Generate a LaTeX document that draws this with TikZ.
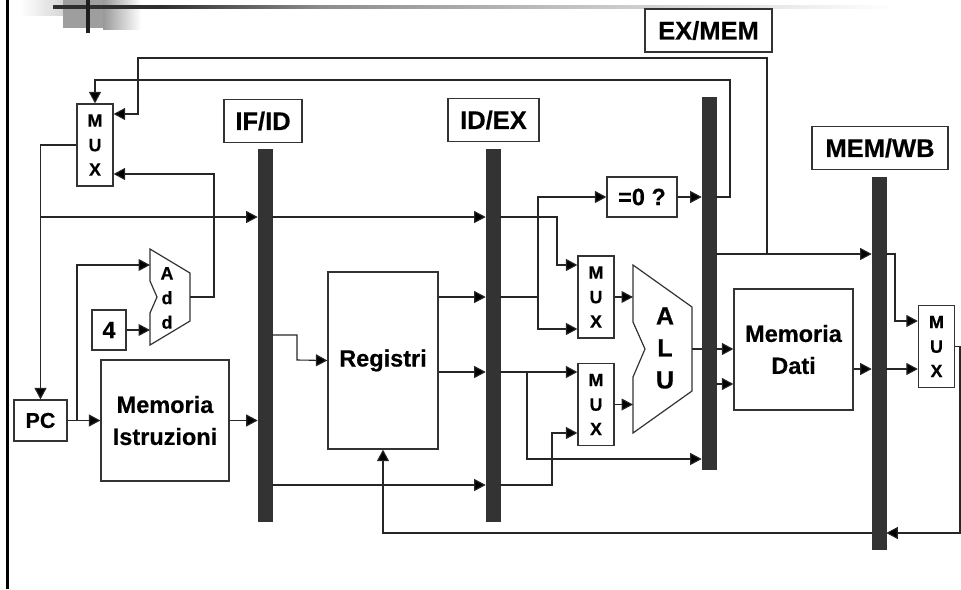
\documentclass[tikz,border=0pt]{standalone}
\usepackage{fontspec}
\setmainfont[BoldFeatures={FakeBold=0.4}]{Liberation Sans}
\usepackage{tikz}
\usetikzlibrary{arrows.meta}
\usepackage{xcolor}
\definecolor{bardark}{HTML}{333333}
\tikzset{
	wire/.style={line width=1.1pt,draw=black!85},
	arrowwire/.style={wire,-{Triangle[length=11.5pt,width=12pt,fill=black]}},
	block/.style={draw=black!80,line width=1.2pt,fill=white,inner sep=0pt,align=center,font=\fontsize{23.5}{32}\selectfont\bfseries},
	muxbox/.style={block,minimum width=36pt,minimum height=82pt,font=\fontsize{18}{24.5}\selectfont\bfseries},
	pipebar/.style={draw=black!80,fill=bardark,line width=.6pt,inner sep=0pt,minimum width=14pt,minimum height=372pt},
	pipelabel/.style={block,minimum height=43pt,font=\fontsize{25.5}{30}\selectfont\bfseries},
	unitshape/.style={draw=black!80,line width=1.2pt,fill=white},
	unittext/.style={align=center,inner sep=0pt}
}
\begin{document}
\begin{tikzpicture}[x=1pt,y=-1pt]
	\useasboundingbox (0,0) rectangle (961,589);
	
	% slide decoration
	\shade[left color=white,right color=black!22] (20,0) rectangle (79,15);
	\fill[black!38] (63,0) rectangle (103,28);
	\shade[left color=black!40,right color=white] (103,0) rectangle (141,29);
	\fill[black!82] (53,5) rectangle (160,9);
	\shade[left color=black!82,right color=black!45] (160,5.4) rectangle (320,8.6);
	\shade[left color=black!45,right color=black!25] (320,5.4) rectangle (560,8.6);
	\shade[left color=black!25,right color=white] (560,5.4) rectangle (895,8.6);
	\fill[black!88] (86,0) rectangle (90,33);
	\fill[black] (6,0) rectangle (9,589);
	
	% pipeline registers
	\foreach \name/\x/\y in {ifid/265/335, idex/493/335, exmem/709/283, memwb/879/363}
	{
		\node[pipebar] (\name) at (\x,\y) {};
	}
	\node[pipelabel,minimum width=78pt] (ifidlab) at (263,121) {IF/ID};
	\node[pipelabel,minimum width=91pt] (idexlab) at (493.5,120) {ID/EX};
	\node[pipelabel,minimum width=127pt] (exmemlab) at (708.5,30.5) {EX/MEM};
	\node[pipelabel,minimum width=136pt] (memwblab) at (880,148) {MEM/WB};
	
	% blocks
	\foreach \name/\x/\y in {muxpc/95/145, muxa/596/297, muxb/596/404.5, muxc/936.5/346.5}
	{
		\node[muxbox] (\name) at (\x,\y) {M\\U\\X};
	}
	\node[block,minimum width=53pt,minimum height=41pt,font=\fontsize{21.5}{26}\selectfont\bfseries] (pc) at (40.5,420.5) {PC};
	\node[block,minimum width=34pt,minimum height=40pt] (four) at (109,330) {4};
	\node[block,minimum width=128pt,minimum height=121pt] (imem) at (165,420.5) {Memoria\\Istruzioni};
	\node[block,minimum width=110pt,minimum height=177pt] (reg) at (383,360.5) {Registri};
	\node[block,minimum width=70pt,minimum height=40pt] (zero) at (642,197) {=0 ?};
	\node[block,minimum width=119pt,minimum height=121pt] (dmem) at (793.5,349.5) {Memoria\\Dati};
	
	% adder and alu
	\draw[unitshape] (150,249)--(190,273)--(190,321)--(150,345)--(150,313)--(157,297)--(150,281)--cycle;
	\node[unittext,font=\fontsize{18}{24.5}\selectfont\bfseries] (addtxt) at (167,298) {A\\d\\d};
	\draw[unitshape] (633,265)--(692,307)--(692,391)--(633,433)--(633,377)--(645,349)--(633,322)--cycle;
	\node[unittext,font=\fontsize{25}{32}\selectfont\bfseries] (alutxt) at (665,348) {A\\L\\U};
	\coordinate (addout) at (190,297);
	\coordinate (aluout) at (692,349);
	
	% fetch
	\coordinate (seqpc) at (pc.north |- 0,217);
	\coordinate (memout) at (767,254);
	\draw[arrowwire] (muxpc.west) -| (pc.north);
	\draw[arrowwire] (seqpc) -- (ifid.west |- seqpc);
	\draw[arrowwire] (ifid.east |- seqpc) -- (idex.west |- seqpc);
	\draw[arrowwire] (pc.east) -- (imem.west);
	\draw[arrowwire] (77,421) -- (77,265) -- (150,265);
	\draw[arrowwire] (four.east) -- (150,330);
	\draw[arrowwire] (addout) -- (214,297) -- (214,174) -- (muxpc.east |- 0,174);
	\draw[arrowwire] (imem.east) -- (ifid.west |- imem.east);
	\draw[arrowwire] (memout) -- (767,58) -- (138,58) -- (138,114) -- (muxpc.east |- 0,114);
	\draw[arrowwire] (exmem.east |- 0,197) -- (730,197) -- (730,80) -- (95,80) -- (muxpc.north);
	
	% decode
	\draw[arrowwire] (ifid.east |- 0,335) -- (297,335) -- (297,360) -- (reg.west);
	\draw[arrowwire] (ifid.east |- 0,485) -- (idex.west |- 0,485);
	\draw[arrowwire] (reg.east |- 0,297) -- (idex.west |- 0,297);
	\draw[arrowwire] (reg.east |- 0,372) -- (idex.west |- 0,372);
	
	% execute
	\draw[arrowwire] (idex.east |- seqpc) -- (557,217) -- (557,265) -- (muxa.west |- 0,265);
	\draw[wire] (idex.east |- 0,297) -- (538,297);
	\draw[arrowwire] (538,297) -- (538,197) -- (zero.west);
	\draw[arrowwire] (538,297) -- (538,329) -- (muxa.west |- 0,329);
	\draw[arrowwire] (idex.east |- 0,372) -- (muxb.west |- 0,372);
	\draw[arrowwire] (527,372) -- (527,459) -- (exmem.west |- 0,459);
	\draw[arrowwire] (idex.east |- 0,485) -- (552,485) -- (552,433) -- (muxb.west |- 0,433);
	\draw[arrowwire] (muxa.east) -- (633,297);
	\draw[arrowwire] (muxb.east) -- (633,404.5);
	\draw[arrowwire] (zero.east) -- (exmem.west |- zero.east);
	\draw[wire] (aluout) -- (exmem.west |- aluout);
	
	% memory and write back
	\draw[arrowwire] (exmem.east |- aluout) -- (dmem.west |- aluout);
	\draw[arrowwire] (exmem.east |- 0,384) -- (dmem.west |- 0,384);
	\draw[arrowwire] (exmem.east |- memout) -- (memwb.west |- memout);
	\draw[arrowwire] (dmem.east |- 0,369) -- (memwb.west |- 0,369);
	\draw[arrowwire] (memwb.east |- 0,369) -- (muxc.west |- 0,369);
	\draw[arrowwire] (memwb.east |- memout) -- (895,254) -- (895,321) -- (muxc.west |- 0,321);
	\draw[arrowwire] (muxc.east) -- (960,346.5) -- (960,533) -- (memwb.east |- 0,533);
	\draw[arrowwire] (memwb.west |- 0,533) -- (reg.south |- 0,533) -- (reg.south);
	
\end{tikzpicture}
\end{document}
